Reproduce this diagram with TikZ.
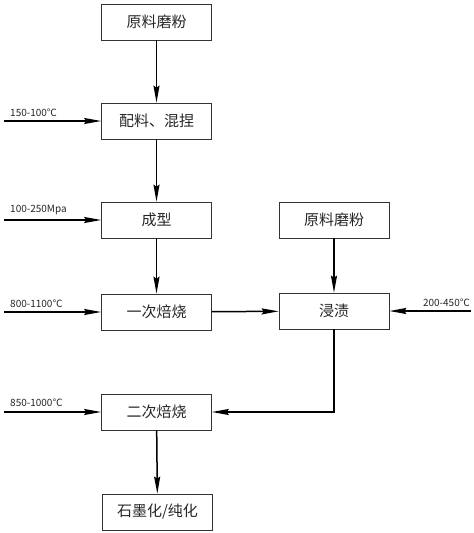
\documentclass[tikz,border=0pt]{standalone}
\usepackage{fontspec}
\newfontfamily\cjk{Noto Sans CJK SC}
\usetikzlibrary{arrows.meta, positioning}

\begin{document}
\begin{tikzpicture}[x=1pt, y=-1pt, >={Stealth[length=17pt, width=6pt, inset=2pt]},
      stepbox/.style={draw=black!80, line width=0.7pt, minimum width=110pt, minimum height=36pt,
                  font=\cjk\fontsize{15}{17}\selectfont, text=black!85},
      flow/.style={->, line width=1.5pt},
      cond/.style={font=\cjk\fontsize{10}{12}\selectfont, text=black!85, inner sep=0pt}]

    \useasboundingbox (0,0) rectangle (474,533);

    % ---- Main column ----
    \node[stepbox] (raw)   at (156.5, 22)  {原料磨粉};
    \node[stepbox] (mix)   at (156.5, 121) {配料、混捏};
    \node[stepbox] (form)  at (156.5, 220) {成型};
    \node[stepbox] (bake1) at (156.5, 312) {一次焙烧};
    \node[stepbox] (bake2) at (156.5, 412) {二次焙烧};
    \node[stepbox] (graph) at (157.5, 512) {石墨化/纯化};

    \draw[flow] (raw) -- (mix);
    \draw[flow] (mix) -- (form);
    \draw[flow] (form) -- (bake1);
    \draw[flow] (bake2) -- (graph);

    % ---- Right column: impregnation ----
    \node[stepbox] (raw2) at (334, 220) {原料磨粉};
    \node[stepbox] (imp)  at (334, 311) {浸渍};

    \draw[flow] (raw2) -- (imp);
    \draw[flow] (bake1) -- (imp);
    \draw[flow] (imp.south) |- (bake2.east);

    % ---- Process conditions ----
    \coordinate (cMix)   at (4, 121);
    \coordinate (cForm)  at (4, 220);
    \coordinate (cBake1) at (4, 312);
    \coordinate (cBake2) at (4, 412);
    \coordinate (cImp)   at (471, 311);

    \draw[flow] (cMix) -- (mix.west);
    \draw[flow] (cForm) -- (form.west);
    \draw[flow] (cBake1) -- (bake1.west);
    \draw[flow] (cBake2) -- (bake2.west);
    \draw[flow] (cImp) -- (imp.east);

    \node[cond, anchor=south west] (tMix)   at (10, 117) {150-100℃};
    \node[cond, anchor=south west] (tForm)  at (10, 215) {100-250Mpa};
    \node[cond, anchor=south west] (tBake1) at (10, 308) {800-1100℃};
    \node[cond, anchor=south west] (tBake2) at (10, 407) {850-1000℃};
    \node[cond, anchor=south east] (tImp)   at (470, 307) {200-450℃};

\end{tikzpicture}
\end{document}
